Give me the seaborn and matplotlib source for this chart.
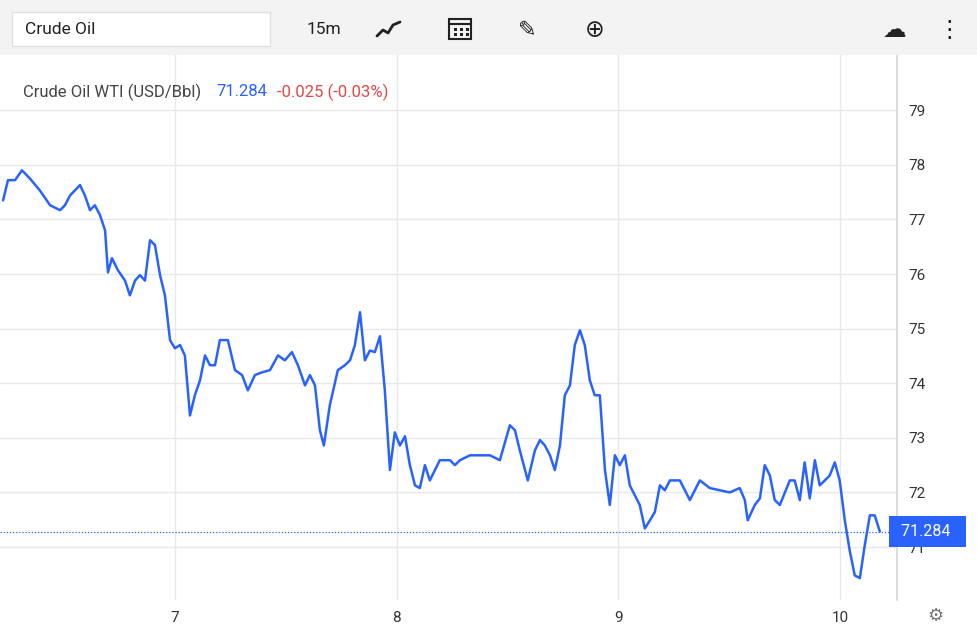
import matplotlib
matplotlib.use("Agg")
import matplotlib.pyplot as plt
import seaborn as sns
import pandas as pd
from matplotlib.patches import Rectangle
from matplotlib.lines import Line2D

days = [6.225,6.247,6.279,6.310,6.346,6.391,6.437,6.482,6.504,6.527,6.572,6.594,6.617,6.639,6.662,6.685,6.698,6.716,6.743,6.775,6.797,6.820,6.842,6.865,6.888,6.910,6.933,6.955,6.978,7.000,7.023,7.045,7.068,7.090,7.113,7.136,7.158,7.181,7.203,7.239,7.271,7.303,7.329,7.361,7.393,7.429,7.465,7.496,7.528,7.555,7.587,7.609,7.632,7.654,7.672,7.699,7.735,7.767,7.790,7.812,7.835,7.857,7.880,7.902,7.925,7.947,7.970,7.992,8.015,8.038,8.060,8.083,8.105,8.128,8.150,8.195,8.241,8.263,8.286,8.331,8.376,8.421,8.466,8.511,8.534,8.556,8.592,8.624,8.647,8.669,8.692,8.714,8.737,8.759,8.782,8.804,8.827,8.849,8.872,8.894,8.917,8.940,8.962,8.985,9.007,9.030,9.052,9.097,9.120,9.143,9.165,9.188,9.210,9.233,9.278,9.323,9.368,9.413,9.458,9.503,9.548,9.571,9.584,9.616,9.639,9.661,9.684,9.706,9.729,9.774,9.796,9.819,9.841,9.864,9.887,9.909,9.932,9.954,9.977,9.999,10.022,10.044,10.067,10.090,10.112,10.135,10.157,10.180]
prices = [77.35,77.72,77.72,77.90,77.75,77.53,77.26,77.17,77.26,77.44,77.63,77.44,77.17,77.26,77.08,76.80,76.03,76.29,76.07,75.88,75.61,75.88,75.98,75.88,76.62,76.53,75.98,75.61,74.79,74.64,74.70,74.51,73.41,73.78,74.05,74.51,74.33,74.33,74.79,74.79,74.24,74.15,73.87,74.15,74.20,74.24,74.51,74.42,74.57,74.33,73.96,74.15,73.96,73.14,72.86,73.60,74.24,74.33,74.42,74.70,75.30,74.42,74.60,74.57,74.86,73.87,72.41,73.10,72.86,73.03,72.50,72.13,72.08,72.50,72.22,72.59,72.59,72.50,72.59,72.68,72.68,72.68,72.59,73.23,73.14,72.77,72.22,72.77,72.96,72.86,72.68,72.41,72.86,73.78,73.96,74.70,74.97,74.70,74.05,73.78,73.78,72.41,71.77,72.68,72.50,72.68,72.13,71.77,71.34,71.49,71.64,72.13,72.04,72.22,72.22,71.86,72.22,72.08,72.04,72.00,72.08,71.86,71.49,71.77,71.89,72.50,72.31,71.86,71.77,72.22,72.22,71.86,72.55,71.89,72.59,72.13,72.22,72.31,72.55,72.22,71.49,70.94,70.48,70.43,71.03,71.58,71.58,71.284]
last_price = 71.284
x_ticks = [7, 8, 9, 10]
y_ticks = [71, 72, 73, 74, 75, 76, 77, 78, 79]

df = pd.DataFrame({"day": days, "price": prices})
sns.set_theme(style="white")
plt.rcParams['font.family'] = ['Roboto', 'DejaVu Sans']

fig = plt.figure(figsize=(9.77, 6.41), dpi=100)
ax = fig.add_axes([0.0, 0.064, 0.918, 0.85])
sns.lineplot(data=df, x="day", y="price", ax=ax, color="#2962ff", linewidth=1.8)
ax.set_xlim(6.211, 10.257)
ax.set_ylim(70.03, 80.01)
ax.set_xticks(x_ticks)
ax.set_yticks(y_ticks)
ax.set_xticklabels([str(t) for t in x_ticks])
ax.yaxis.tick_right()
ax.tick_params(axis='both', labelsize=11, colors="#333333", length=0, pad=8)
ax.set_xlabel(""); ax.set_ylabel("")
ax.grid(True, color="#e8e8e8", linewidth=1)
for s in ["left", "top", "bottom"]:
    ax.spines[s].set_visible(False)
ax.spines["right"].set_color("#d8d8d8")
ax.axhline(last_price, color="#2962ff", linestyle=(0, (1, 1.5)), linewidth=0.9)
ax.text(1.0, last_price, f" {last_price:.3f}  ", transform=ax.get_yaxis_transform(),
        ha="left", va="center", color="white", fontsize=11.5,
        bbox=dict(boxstyle="square,pad=0.5", fc="#2962ff", ec="none"), clip_on=False)

# title line
fig.text(23/977, 1-92/641, "Crude Oil WTI (USD/Bbl)", fontsize=12, color="#444444", va="center")
fig.text(216/977, 1-92/641, "71.284", fontsize=12, color="#2962ff", va="center")
fig.text(277/977, 1-92/641, "-0.025 (-0.03%)", fontsize=12, color="#e04848", va="center")

# toolbar
fig.patches.append(Rectangle((0, 1-55/641), 1, 55/641, transform=fig.transFigure, fc="#f3f3f3", ec="none"))
fig.patches.append(Rectangle((12/977, 1-46/641), 258/977, 34/641, transform=fig.transFigure, fc="white", ec="#e0e0e0"))
fig.text(25/977, 1-30/641, "Crude Oil", fontsize=12.5, color="#222222", va="center")
fig.text(307/977, 1-30/641, "15m", fontsize=12.5, color="#222222", va="center")
# line-chart icon
fig.lines.append(Line2D([x/977 for x in [377, 383, 388, 393, 400]],
                        [1-y/641 for y in [36, 30, 33, 25, 22]],
                        transform=fig.transFigure, color="#222222", lw=2))
# calendar icon
fig.patches.append(Rectangle((449/977, 1-39/641), 22/977, 20/641, transform=fig.transFigure,
                             fc="none", ec="#222222", lw=1.5))
fig.lines.append(Line2D([449/977, 471/977], [1-24/641, 1-24/641], transform=fig.transFigure, color="#222222", lw=1.5))
for cx in [454, 460, 466]:
    for cy in [29, 34]:
        fig.patches.append(Rectangle((cx/977, 1-(cy+1.5)/641), 2.5/977, 2.5/641, transform=fig.transFigure, fc="#222222", ec="none"))
fig.text(518/977, 1-30/641, "✎", fontsize=16, color="#222222", va="center", family=['DejaVu Sans'])
fig.text(585/977, 1-30/641, "⊕", fontsize=17, color="#222222", va="center", family=['DejaVu Sans'])
fig.text(883/977, 1-30/641, "☁", fontsize=17, color="#222222", va="center", family=['DejaVu Sans'])
fig.text(937/977, 1-30/641, "⋮", fontsize=17, color="#222222", va="center", family=['DejaVu Sans'])
fig.text(927/977, 1-616/641, "⚙", fontsize=13, color="#777777", va="center", family=['DejaVu Sans'])

fig.savefig("out.png", dpi=100, facecolor="white")
